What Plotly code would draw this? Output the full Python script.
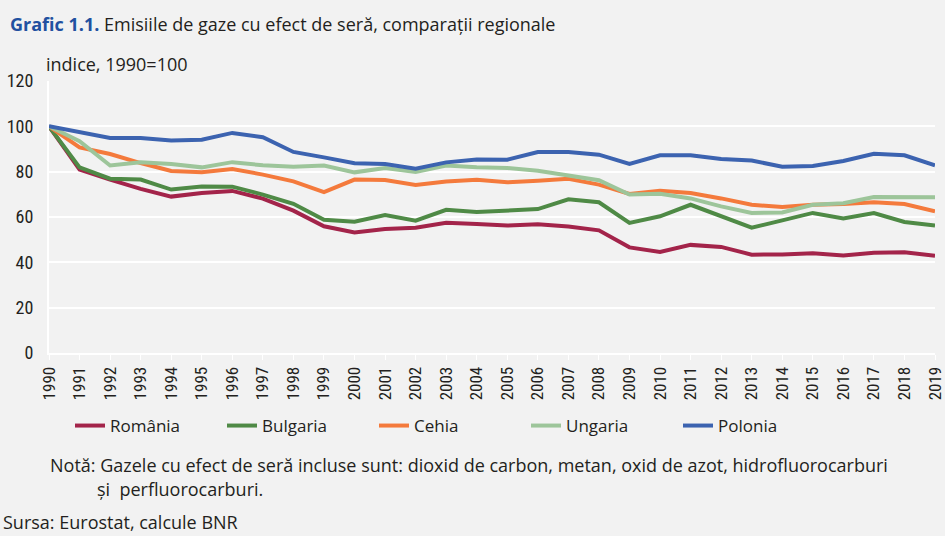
import plotly.graph_objects as go

years = list(range(1990, 2020))
romania = [100, 80.9, 76.5, 72.4, 69.0, 70.6, 71.5, 68.1, 62.8, 55.9, 53.2, 54.7, 55.3, 57.5, 56.9,
           56.2, 56.8, 55.8, 54.1, 46.6, 44.6, 47.7, 46.8, 43.4, 43.5, 44.0, 43.0, 44.2, 44.4, 42.9]
bulgaria = [100, 81.9, 76.9, 76.5, 72.1, 73.5, 73.4, 69.9, 65.8, 58.8, 57.9, 60.9, 58.4, 63.2, 62.2,
            63.0, 63.5, 67.8, 66.5, 57.4, 60.3, 65.4, 60.3, 55.3, 58.5, 61.8, 59.4, 61.7, 57.8, 56.3]
cehia = [100, 90.7, 87.8, 83.8, 80.3, 79.7, 81.2, 78.7, 75.7, 71.0, 76.5, 76.3, 74.1, 75.7, 76.4,
         75.3, 76.0, 76.9, 74.3, 70.2, 71.6, 70.6, 68.2, 65.4, 64.4, 65.4, 65.7, 66.5, 65.7, 62.5]
ungaria = [100, 93.4, 82.7, 84.1, 83.4, 81.9, 84.2, 82.8, 82.2, 82.7, 79.7, 81.6, 79.9, 82.7, 81.9,
           81.6, 80.4, 78.4, 76.2, 69.9, 70.3, 68.2, 64.7, 61.8, 62.0, 65.4, 66.1, 68.8, 68.8, 68.7]
polonia = [100, 97.5, 94.9, 94.9, 93.7, 94.1, 97.1, 95.2, 88.7, 86.3, 83.7, 83.4, 81.3, 84.1, 85.4,
           85.3, 88.7, 88.7, 87.5, 83.4, 87.2, 87.2, 85.6, 84.9, 82.2, 82.5, 84.7, 87.9, 87.2, 82.8]

series = [
    ("România", romania, "#a3244a"),
    ("Bulgaria", bulgaria, "#4f8a46"),
    ("Cehia", cehia, "#f47a3c"),
    ("Ungaria", ungaria, "#9dc59a"),
    ("Polonia", polonia, "#3c63b0"),
]

BG = "#f2f2f2"
TXT = "#231f20"
FONT = "Open Sans, Lato, sans-serif"
NARROW = "Liberation Sans Narrow, Roboto Condensed, Arial Narrow, sans-serif"

W, H = 945, 536
L, R, T, B = 49, 10, 81, 183
PW, PH = W - L - R, H - T - B


def px(x):
    return (x - L) / PW


def py(y):
    return (H - B - y) / PH


fig = go.Figure()
for name, vals, col in series:
    fig.add_trace(go.Scatter(x=[str(y) for y in years], y=vals, name=name, mode="lines",
                             line=dict(color=col, width=4)))

fig.update_layout(
    width=W, height=H,
    paper_bgcolor=BG, plot_bgcolor=BG,
    margin=dict(l=L, r=R, t=T, b=B, autoexpand=False),
    showlegend=True,
    legend=dict(orientation="h", x=70 / W, xref="container", y=(H - 426) / H, yref="container",
                yanchor="middle", xanchor="left", entrywidth=107, entrywidthmode="pixels",
                itemwidth=30, font=dict(family=FONT, size=17, color=TXT), bgcolor="rgba(0,0,0,0)"),
    font=dict(family=FONT, color=TXT),
    xaxis=dict(type="category", tickangle=-90, tickfont=dict(family=NARROW, size=17, color=TXT),
               showgrid=False, showline=True, linecolor="white", linewidth=2,
               ticks="outside", tickcolor="white", ticklen=5, tickwidth=1,
               range=[0, 29]),
    yaxis=dict(range=[0, 120], dtick=20, tickfont=dict(family=NARROW, size=18, color=TXT),
               gridcolor="white", gridwidth=2, zeroline=False, showline=True,
               linecolor="white", linewidth=2, ticks="", ticklabelstandoff=10),
)

ann_font = dict(family=FONT, size=18, color=TXT)
fig.add_annotation(text="<b><span style='color:#2150a0'>Grafic 1.1.</span></b> Emisiile de gaze cu efect de seră, comparații regionale",
                   xref="paper", yref="paper", x=px(8), y=py(24), xanchor="left", yanchor="middle",
                   showarrow=False, font=ann_font)
fig.add_annotation(text="indice, 1990=100", xref="paper", yref="paper", x=px(44), y=py(64),
                   xanchor="left", yanchor="middle", showarrow=False, font=ann_font)
fig.add_annotation(text="Notă: Gazele cu efect de seră incluse sunt: dioxid de carbon, metan, oxid de azot, hidrofluorocarburi",
                   xref="paper", yref="paper", x=px(48), y=py(465), xanchor="left", yanchor="middle",
                   showarrow=False, font=ann_font)
fig.add_annotation(text="și  perfluorocarburi.",
                   xref="paper", yref="paper", x=px(95), y=py(489), xanchor="left", yanchor="middle",
                   showarrow=False, font=ann_font)
fig.add_annotation(text="Sursa: Eurostat, calcule BNR",
                   xref="paper", yref="paper", x=px(1), y=py(522), xanchor="left", yanchor="middle",
                   showarrow=False, font=ann_font)

fig.write_html("out.html", config={"displayModeBar": False},
               post_script="document.body.style.margin='0';")
